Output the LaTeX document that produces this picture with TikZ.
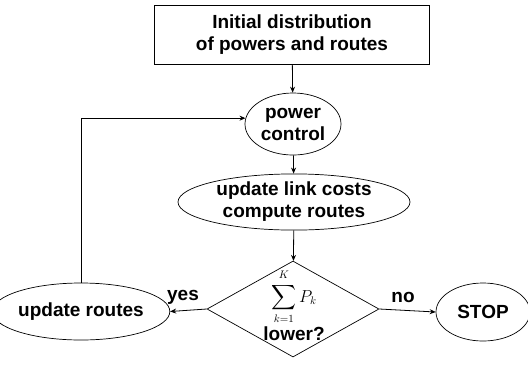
\documentclass[tikz,border=0pt]{standalone}
\usepackage{amsmath}
\usepackage{fontspec}
\setmainfont{Liberation Sans}
\usetikzlibrary{shapes.geometric,arrows.meta}
\begin{document}
\begin{tikzpicture}[x=1pt,y=-1pt,
  every node/.style={font=\fontsize{19}{22}\selectfont\bfseries, align=center, inner sep=0pt},
  shp/.style={draw, line width=0.7pt},
  oval/.style={shp, ellipse},
  arr/.style={line width=0.8pt, -{Stealth[length=6pt,width=5pt]}},
  lbl/.style={font=\fontsize{19}{22}\selectfont\bfseries}]
\useasboundingbox (0,0) rectangle (528,368);
\node[shp, rectangle, minimum width=275pt, minimum height=59pt] (init) at (292,34.5) {Initial distribution\\of powers and routes};
\node[oval, minimum width=96pt, minimum height=62pt] (power) at (293,124) {power\\control};
\node[oval, minimum width=232pt, minimum height=50pt] (link) at (294,202) {update link costs\\compute routes};
\node[shp, diamond, minimum width=172pt, minimum height=96pt] (dec) at (293,309) {};
\node (cond) at (294,305) {{\fontsize{16}{17}\selectfont$\displaystyle\sum_{k=1}^{\raisebox{2pt}{$\scriptstyle K$}} P_k$}\\[2pt]lower?};
\node[oval, minimum width=148pt, minimum height=57pt] (routes) at (81,311.5) {update routes};
\node[oval, minimum width=94pt, minimum height=58pt] (stop) at (483,312) {STOP};
\node[lbl] (yes) at (183,297) {yes};
\node[lbl] (no) at (403,297) {no};
\draw[arr] (init) -- (power);
\draw[arr] (power) -- (link);
\draw[arr] (link) -- (dec);
\draw[arr] (dec.west) -- (routes.east);
\draw[arr] (dec.east) -- (stop.west);
\draw[arr] (routes.north) |- (power.173);
\end{tikzpicture}
\end{document}
